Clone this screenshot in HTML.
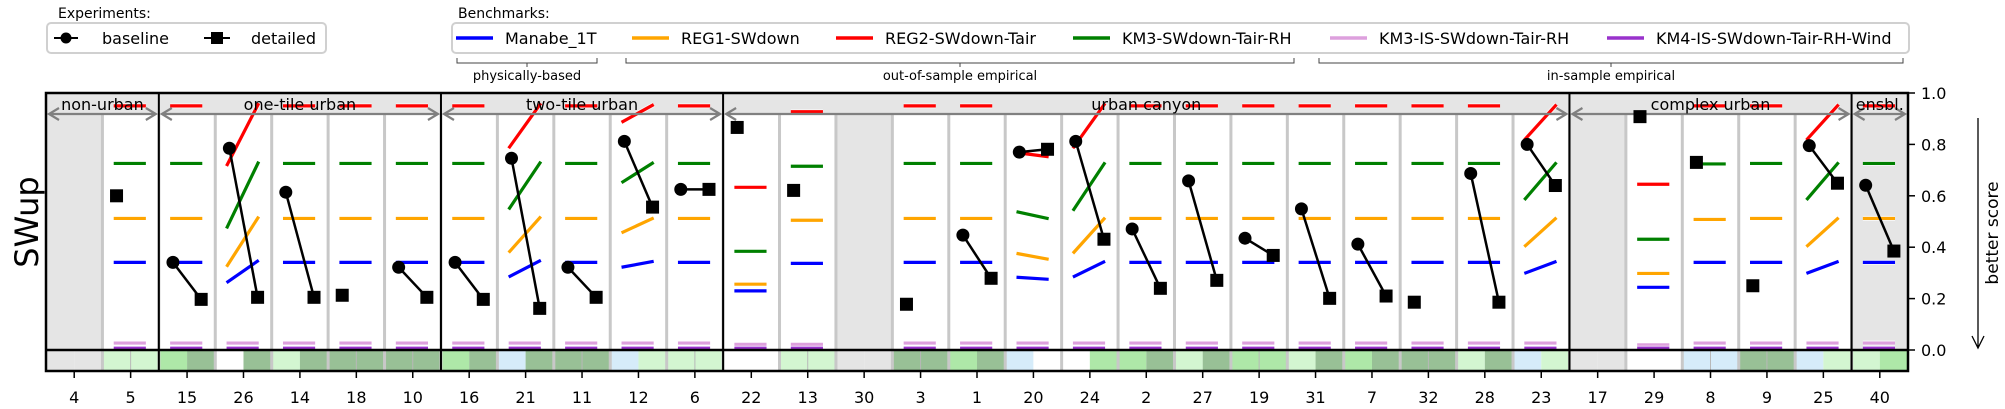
<!DOCTYPE html>
<html><head><meta charset="utf-8">
<style>
html,body{margin:0;padding:0;background:#fff;}
svg{display:block;font-family:"DejaVu Sans","Liberation Sans",sans-serif;}
</style></head>
<body>
<svg id="chart" width="2005" height="409" viewBox="0 0 2005 409" xmlns="http://www.w3.org/2000/svg">
  <g id="legend-exp">
    <text x="58" y="18" font-size="14">Experiments:</text>
    <rect x="47" y="23" width="279" height="30" rx="4" fill="#fff" stroke="#d0d0d0" stroke-width="2"/>
    <line x1="54" y1="38" x2="78" y2="38" stroke="#000" stroke-width="2"/>
    <circle cx="66" cy="38" r="5.5" fill="#000"/>
    <text x="102" y="44" font-size="16">baseline</text>
    <line x1="204" y1="38" x2="230" y2="38" stroke="#000" stroke-width="2"/>
    <rect x="211" y="32" width="12" height="12" fill="#000"/>
    <text x="251" y="44" font-size="16">detailed</text>
  </g>
  <g id="legend-bench">
    <text x="458" y="18" font-size="14">Benchmarks:</text>
    <rect x="452" y="23" width="1457" height="30" rx="4" fill="#fff" stroke="#d0d0d0" stroke-width="2"/>
  </g>
  <g id="brackets"></g>
  <g id="plot"></g>
</svg>
<script>
// ---- data ----
const categories = ["4","5","15","26","14","18","10","16","21","11","12","6","22","13","30","3","1","20","24","2","27","19","31","7","32","28","23","17","29","8","9","25","40"];
const baseline = [null,null,0.341,0.785,0.614,null,0.322,0.341,0.746,0.322,0.812,0.625,null,null,null,null,0.447,0.770,0.812,0.471,0.658,0.435,0.549,0.412,null,0.687,0.800,null,null,null,null,0.795,0.641];
const detailed = [null,0.600,0.197,0.205,0.205,0.213,0.205,0.197,0.162,0.205,0.556,0.625,0.866,0.621,null,0.178,0.279,0.781,0.431,0.240,0.271,0.368,0.201,0.210,0.186,0.186,0.640,null,0.908,0.730,0.250,0.649,0.385];
const manabeA = [null,0.341,0.341,0.262,0.341,0.341,0.341,0.341,0.284,0.341,0.322,0.341,0.230,0.337,null,0.341,0.341,0.283,0.284,0.341,0.341,0.341,0.341,0.341,0.341,0.341,0.298,null,0.244,0.341,0.341,0.298,0.341];
const manabeB = [null,0.341,0.341,0.349,0.341,0.341,0.341,0.341,0.349,0.341,0.345,0.341,0.230,0.337,null,0.341,0.341,0.275,0.345,0.341,0.341,0.341,0.341,0.341,0.341,0.341,0.345,null,0.244,0.341,0.341,0.345,0.341];
const reg1A = [null,0.512,0.512,0.324,0.512,0.512,0.512,0.512,0.379,0.512,0.456,0.512,0.256,0.505,null,0.512,0.512,0.376,0.376,0.512,0.512,0.512,0.512,0.512,0.512,0.512,0.402,null,0.298,0.508,0.512,0.402,0.512];
const reg1B = [null,0.512,0.512,0.519,0.512,0.512,0.512,0.512,0.519,0.512,0.514,0.512,0.256,0.505,null,0.512,0.512,0.353,0.515,0.512,0.512,0.512,0.512,0.512,0.512,0.512,0.515,null,0.298,0.508,0.512,0.515,0.512];
const reg2A = [null,0.950,0.950,0.716,0.950,0.950,0.950,0.950,0.785,0.950,0.886,0.950,0.633,0.927,null,0.950,0.950,0.768,0.785,0.950,0.950,0.950,0.950,0.950,0.950,0.950,0.817,null,0.645,0.950,0.950,0.817,0.950];
const reg2B = [null,0.950,0.950,0.960,0.950,0.950,0.950,0.950,0.960,0.950,0.955,0.950,0.633,0.927,null,0.950,0.950,0.752,0.960,0.950,0.950,0.950,0.950,0.950,0.950,0.950,0.955,null,0.645,0.950,0.950,0.955,0.950];
const km3A = [null,0.726,0.726,0.473,0.726,0.726,0.726,0.726,0.547,0.726,0.651,0.726,0.384,0.715,null,0.726,0.726,0.538,0.542,0.726,0.726,0.726,0.726,0.726,0.726,0.726,0.584,null,0.431,0.724,0.726,0.584,0.726];
const km3B = [null,0.726,0.726,0.733,0.726,0.726,0.726,0.726,0.733,0.726,0.730,0.726,0.384,0.715,null,0.726,0.726,0.511,0.730,0.726,0.726,0.726,0.726,0.726,0.726,0.726,0.730,null,0.431,0.724,0.726,0.730,0.726];
const km3isA = [null,0.027,0.027,0.027,0.027,0.027,0.027,0.027,0.027,0.027,0.027,0.027,0.022,0.022,null,0.027,0.027,0.027,0.027,0.027,0.027,0.027,0.027,0.027,0.027,0.027,0.027,null,0.020,0.027,0.027,0.027,0.027];
const km4isA = [null,0.007,0.007,0.007,0.007,0.007,0.007,0.007,0.007,0.007,0.007,0.007,0.007,0.007,null,0.007,0.007,0.007,0.007,0.007,0.007,0.007,0.007,0.007,0.007,0.007,0.007,null,0.007,0.007,0.007,0.007,0.007];
const groupNames = ["non-urban","one-tile urban","two-tile urban","urban canyon","complex urban","ensbl."];
const groupSizes = [2,5,5,15,5,1];
const emptyCols = ["4","30","17","40"];
const stripLeft  = ["g","l","m","w","l","s","s","m","b","s","b","l","w","l","g","s","m","b","w","m","l","m","l","m","s","l","b","g","w","b","s","b","l"];
const stripRight = ["g","l","s","s","s","s","s","s","s","s","l","l","w","l","g","s","s","w","m","s","s","m","s","s","s","s","l","g","w","b","s","l","m"];
const yTicks = [0.0,0.2,0.4,0.6,0.8,1.0];
const yTickLabels = ["0.0","0.2","0.4","0.6","0.8","1.0"];

// ---- scales ----
const X0 = 46, X1 = 1908, Y1 = 93, Y0 = 350, YB = 371, HB = 114;
const colW = (X1 - X0) / categories.length;
function xCol(i, f) { return X0 + (i + f) * colW; }
function yVal(v) { return Y0 - (Y0 - Y1) * v; }
const stripColor = {g:"#e5e5e5", l:"#d3f6d1", m:"#aee8a8", s:"#98c096", b:"#d6ecfa", w:"#ffffff"};

const NS = "http://www.w3.org/2000/svg";
const plot = document.getElementById("plot");
function mk(tag, attrs, parent) {
  const e = document.createElementNS(NS, tag);
  for (const k in attrs) e.setAttribute(k, attrs[k]);
  (parent || plot).appendChild(e);
  return e;
}

// benchmark legend entries
const legB = document.getElementById("legend-bench");
const benchNames = ["Manabe_1T","REG1-SWdown","REG2-SWdown-Tair","KM3-SWdown-Tair-RH","KM3-IS-SWdown-Tair-RH","KM4-IS-SWdown-Tair-RH-Wind"];
const benchColors = ["#0000ff","#ffa500","#ff0000","#008000","#dda0dd","#9932cc"];
const legLineX = [456,632,836,1073,1330,1607];
for (let k = 0; k < benchNames.length; k++) {
  const ln = mk("line", {x1: legLineX[k], y1: 38, x2: legLineX[k] + 37, y2: 38, stroke: benchColors[k], "stroke-width": 3.5}, legB);
  
  
  const t = mk("text", {x: legLineX[k] + 49, y: 44, "font-size": 16}, legB);
  t.textContent = benchNames[k];
  
  
}
// brackets
const br = document.getElementById("brackets");
const brk = [[457,597,"physically-based"],[626,1294,"out-of-sample empirical"],[1319,1903,"in-sample empirical"]];
brk.forEach(function(b){
  const p = mk("path", {d: "M"+b[0]+",58 V63 H"+b[1]+" V58 M"+((b[0]+b[1])/2)+",63 V67", fill:"none", stroke:"#444", "stroke-width":1}, br);
  
  
  const t = mk("text", {x:(b[0]+b[1])/2, y:80, "font-size":13, "text-anchor":"middle"}, br);
  t.textContent = b[2];
  
  
});

// header band
const hb = mk("rect", {x:X0, y:Y1, width:X1-X0, height:HB-Y1, fill:"#e5e5e5"});


for (let i = 0; i < categories.length; i++) {
  if (emptyCols.indexOf(categories[i]) >= 0) {
    const r = mk("rect", {x:xCol(i,0), y:HB, width:colW, height:Y0-HB, fill:"#e5e5e5"});
    
    
  }
  const sl = mk("rect", {x:xCol(i,0), y:Y0, width:colW/2, height:YB-Y0, fill:stripColor[stripLeft[i]]});
  
  
  const sr = mk("rect", {x:xCol(i,0.5), y:Y0, width:colW/2, height:YB-Y0, fill:stripColor[stripRight[i]]});
  
  
  if (stripLeft[i] === stripRight[i] && stripLeft[i] !== "g" && stripLeft[i] !== "w") {
    const ml = mk("line", {x1:xCol(i,0.5), y1:Y0, x2:xCol(i,0.5), y2:YB, stroke:"#b8b8b8", "stroke-width":1});
    
    
  }
  if (i > 0) {
    const sep = mk("line", {x1:xCol(i,0), y1:HB, x2:xCol(i,0), y2:YB, stroke:"#c8c8c8", "stroke-width":3});
    
    
  }
}
const benchA = [km3isA, km4isA, manabeA, reg1A, km3A, reg2A];
const benchB = [km3isA, km4isA, manabeB, reg1B, km3B, reg2B];
const benchCol = ["#dda0dd","#9932cc","#0000ff","#ffa500","#008000","#ff0000"];
const benchKey = ["km3-is","km4-is","manabe","reg1","km3","reg2"];
for (let k = 0; k < benchA.length; k++) {
  for (let i = 0; i < categories.length; i++) {
    const a = benchA[k][i], b = benchB[k][i];
    if (a === null) continue;
    const halo = mk("line", {x1:xCol(i,0.2), y1:yVal(a), x2:xCol(i,0.77), y2:yVal(b), stroke:"#fff", "stroke-width":5, opacity:0.7});
    
    
    const ln = mk("line", {x1:xCol(i,0.2), y1:yVal(a), x2:xCol(i,0.77), y2:yVal(b), stroke:benchCol[k], "stroke-width":3.2});
    
    
  }
}
let start = 0;
for (let g = 0; g < groupNames.length; g++) {
  const xa = xCol(start,0), xb = xCol(start + groupSizes[g],0);
  const ar = mk("path", {d:"M"+(xa+3)+","+HB+" H"+(xb-3)+" M"+(xa+13)+","+(HB-6)+" L"+(xa+3)+","+HB+" L"+(xa+13)+","+(HB+6)+" M"+(xb-13)+","+(HB-6)+" L"+(xb-3)+","+HB+" L"+(xb-13)+","+(HB+6), fill:"none", stroke:"#808080", "stroke-width":2.2});
  
  
  const t = mk("text", {x:(xa+xb)/2, y:110, "font-size":16, "text-anchor":"middle"});
  t.textContent = groupNames[g];
  
  
  if (start > 0) {
    const s = mk("line", {x1:xa, y1:Y1, x2:xa, y2:YB, stroke:"#000", "stroke-width":2});
    
    
  }
  start += groupSizes[g];
}
for (let i = 0; i < categories.length; i++) {
  const b = baseline[i], d = detailed[i];
  if (b !== null && d !== null) {
    const l = mk("line", {x1:xCol(i,0.25), y1:yVal(b), x2:xCol(i,0.75), y2:yVal(d), stroke:"#000", "stroke-width":2.5});
    
    
  }
  if (b !== null) {
    const c = mk("circle", {cx:xCol(i,0.25), cy:yVal(b), r:6.5, fill:"#000"});
    
    
  }
  if (d !== null) {
    const cx = b !== null ? xCol(i,0.75) : xCol(i,0.25);
    const s = mk("rect", {x:cx-6.5, y:yVal(d)-6.5, width:13, height:13, fill:"#000"});
    
    
  }
}
const zl = mk("line", {x1:X0, y1:Y0, x2:X1, y2:Y0, stroke:"#000", "stroke-width":2.5});


const fr = mk("rect", {x:X0, y:Y1, width:X1-X0, height:YB-Y1, fill:"none", stroke:"#000", "stroke-width":2.5});


for (let i = 0; i < categories.length; i++) {
  const tk = mk("line", {x1:xCol(i,0.5), y1:YB, x2:xCol(i,0.5), y2:YB+7, stroke:"#000", "stroke-width":1.5});
  
  
  const t = mk("text", {x:xCol(i,0.5), y:403, "font-size":16, "text-anchor":"middle"});
  t.textContent = categories[i];
  
  
}
for (let j = 0; j < yTicks.length; j++) {
  const y = yVal(yTicks[j]);
  const tk = mk("line", {x1:X1, y1:y, x2:X1+7, y2:y, stroke:"#000", "stroke-width":1.5});
  
  
  const t = mk("text", {x:X1+13, y:y+6, "font-size":16});
  t.textContent = yTickLabels[j];
  
  
}
const yt = mk("text", {x:0, y:0, "font-size":32, "text-anchor":"middle", transform:"translate(38,222) rotate(-90)"});
yt.textContent = "SWup";


const bs = mk("text", {x:0, y:0, "font-size":17, "text-anchor":"middle", transform:"translate(1998,233) rotate(-90)"});
bs.textContent = "better score";


const ba = mk("path", {d:"M1978,118 V348 M1972,336 L1978,348 L1984,336", fill:"none", stroke:"#000", "stroke-width":1.3});


</script>
</body></html>
